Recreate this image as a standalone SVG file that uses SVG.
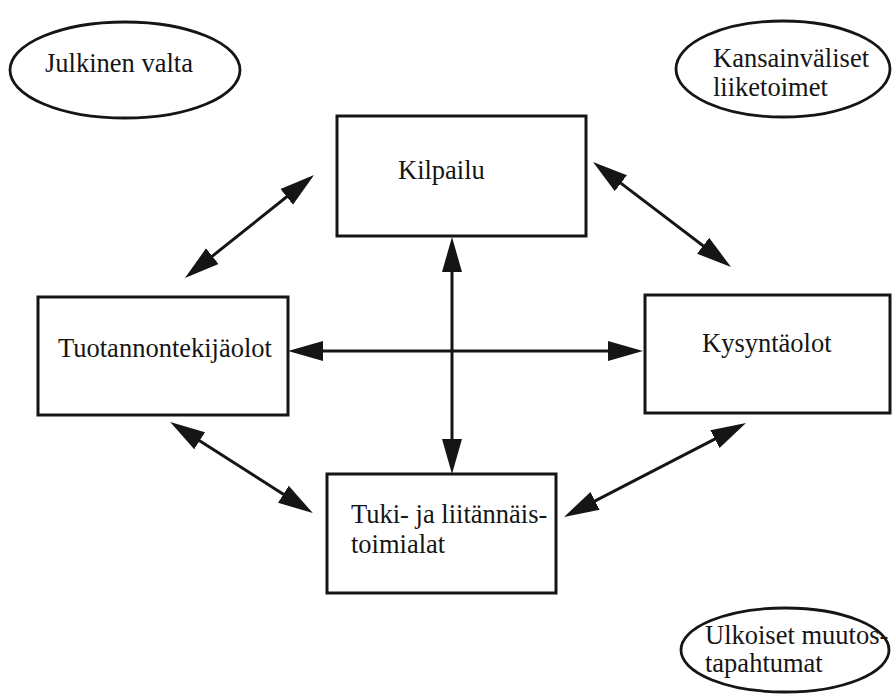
<svg xmlns="http://www.w3.org/2000/svg" width="894" height="694" viewBox="0 0 894 694">
  <style>
    .box { fill: #ffffff; stroke: #151515; stroke-width: 3; }
    .oval { fill: #ffffff; stroke: #151515; stroke-width: 2.8; }
    .lbl { font-family: "Liberation Serif", "Times New Roman", serif; font-size: 26.5px; fill: #151515; }
    .link { fill: none; stroke: #151515; stroke-width: 3; marker-start: url(#head); marker-end: url(#head); }
  </style>
  <defs>
    <marker id="head" markerUnits="userSpaceOnUse" markerWidth="40" markerHeight="24" viewBox="0 -12 40 24" refX="27" refY="0" orient="auto-start-reverse">
      <path d="M0,-10 L35,0 L0,10 Z" fill="#151515"/>
    </marker>
  </defs>
  <rect width="894" height="694" fill="#ffffff"/>

  <!-- outer influences -->
  <g id="julkinen-valta">
    <ellipse class="oval" cx="125" cy="70" rx="115" ry="48"/>
    <text class="lbl" x="45" y="72">Julkinen valta</text>
  </g>
  <g id="kansainvaliset-liiketoimet">
    <ellipse class="oval" cx="783" cy="69" rx="107" ry="48"/>
    <text class="lbl" x="713" y="67">Kansainväliset</text>
    <text class="lbl" x="713" y="96">liiketoimet</text>
  </g>
  <g id="ulkoiset-muutostapahtumat">
    <ellipse class="oval" cx="785" cy="650" rx="104" ry="42"/>
    <text class="lbl" x="705" y="644">Ulkoiset muutos-</text>
    <text class="lbl" x="705" y="672">tapahtumat</text>
  </g>

  <!-- connectors between the four factors -->
  <g id="connectors">
    <line class="link" x1="452" y1="245" x2="452" y2="466"/>
    <line class="link" x1="296" y1="351" x2="635" y2="351"/>
    <line class="link" x1="191.2" y1="273" x2="307.8" y2="180"/>
    <line class="link" x1="599.4" y1="166.9" x2="724.6" y2="262.1"/>
    <line class="link" x1="176.9" y1="426.2" x2="306.1" y2="508.8"/>
    <line class="link" x1="571.1" y1="513.3" x2="738.9" y2="426.7"/>
  </g>

  <!-- the four factor boxes -->
  <g id="kilpailu">
    <rect class="box" x="337" y="116" width="249" height="120"/>
    <text class="lbl" x="398" y="179">Kilpailu</text>
  </g>
  <g id="tuotannontekijaolot">
    <rect class="box" x="38" y="297" width="250" height="118"/>
    <text class="lbl" x="58" y="357">Tuotannontekijäolot</text>
  </g>
  <g id="kysyntaolot">
    <rect class="box" x="645" y="295" width="245" height="118"/>
    <text class="lbl" x="702" y="352">Kysyntäolot</text>
  </g>
  <g id="tuki-ja-liitannaistoimialat">
    <rect class="box" x="327" y="474" width="229" height="119"/>
    <text class="lbl" x="351" y="523">Tuki- ja liitännäis-</text>
    <text class="lbl" x="351" y="553">toimialat</text>
  </g>
</svg>
